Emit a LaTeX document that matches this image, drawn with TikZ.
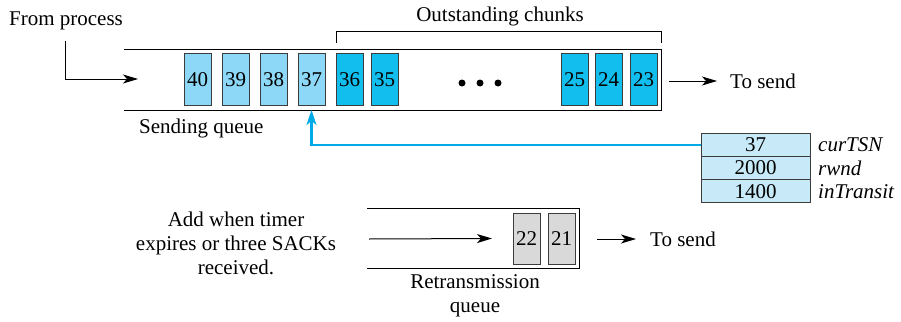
\documentclass[tikz,border=0pt]{standalone}
\usepackage{fontspec}
\setmainfont{Liberation Serif}
\usetikzlibrary{positioning,arrows.meta}
\definecolor{ChunkLight}{RGB}{140,216,246}
\definecolor{ChunkDark}{RGB}{18,190,238}
\definecolor{TabFill}{RGB}{200,233,248}
\definecolor{PtrBlue}{RGB}{0,170,230}
\definecolor{RetxGray}{RGB}{217,217,217}
\definecolor{EdgeGray}{RGB}{60,60,60}

\begin{document}
\begin{tikzpicture}[
  x=1pt, y=-1pt,
  font=\rmfamily\fontsize{21}{24}\selectfont,
  cell/.style={draw=EdgeGray,line width=1pt,minimum width=27pt,minimum height=51pt,inner sep=0pt,outer sep=0pt},
  waiting/.style={cell,fill=ChunkLight},
  sent/.style={cell,fill=ChunkDark},
  retx/.style={cell,fill=RetxGray},
  tabrow/.style={draw=EdgeGray,line width=1pt,fill=TabFill,minimum width=109pt,minimum height=23.3pt,inner sep=0pt,outer sep=0pt},
  lbl/.style={inner sep=0pt,align=center},
  ar/.style={-{Stealth[length=15pt,width=9pt,inset=4pt]},line width=1pt},
  ptr/.style={-{Stealth[length=15pt,width=10pt,inset=4pt]},draw=PtrBlue,line width=2.2pt}
]
\useasboundingbox (0,0) rectangle (901,321);
% sending queue
\draw[line width=1pt] (124,50) -| (661,110) -- (124,110);
\coordinate (sq-bot) at (124,110);
\node[waiting] (c40) at (197.5,79.5) {40};
\node[waiting,right=11pt of c40] (c39) {39};
\node[waiting,right=11pt of c39] (c38) {38};
\node[waiting,right=11pt of c38] (c37) {37};
\node[sent,right=11pt of c37] (c36) {36};
\node[sent,right=8pt of c36] (c35) {35};
\foreach \x in {462,480,498} \fill (\x,83) circle (3.5);
\node[sent] (c25) at (574.5,79.5) {25};
\node[sent,right=7pt of c25] (c24) {24};
\node[sent,right=8pt of c24] (c23) {23};
\node[lbl,anchor=west] (sqlabel) at (139,128) {Sending queue};
% outstanding chunks
\draw[line width=1pt] (336,43) |- (661,32) -- (661,43);
\node[lbl] (outst) at (500,16) {Outstanding chunks};
% from process
\node[lbl] (fromproc) at (66,21) {From process};
\coordinate (fp-turn) at (65,79);
\draw[ar] (65,41) -- (fp-turn) -- (138,79);
% to send (top)
\node[lbl,anchor=west] (send1) at (730,81) {To send};
\draw[ar] (669,81) -- ([xshift=-13pt]send1.west);
% variables
\node[tabrow] (tsn) at (755.5,144.7) {37};
\node[tabrow,below=0pt of tsn] (rwnd) {2000};
\node[tabrow,below=0pt of rwnd] (transit) {1400};
\node[lbl,anchor=west,right=8pt of tsn] {\itshape curTSN};
\node[lbl,anchor=west,right=8pt of rwnd] {\itshape rwnd};
\node[lbl,anchor=west,right=8pt of transit] {\itshape inTransit};
\draw[ptr] (tsn.west) -| (c37 |- sq-bot);
% retransmission queue
\draw[line width=1pt] (367,208) -| (579,268) -- (367,268);
\node[retx] (c22) at (526.5,238.5) {22};
\node[retx,right=8pt of c22] (c21) {21};
\node[lbl] (addtxt) at (236,243) {Add when timer\\expires or three SACKs\\received.};
\coordinate (rq-in) at (369,239);
\draw[ar] (rq-in) -- ([xshift=-21pt]c22.west);
\node[lbl] (rqlabel) at (475,296) {Retransmission\\queue};
\node[lbl,anchor=west] (send2) at (650,239) {To send};
\draw[ar] (597,239) -- ([xshift=-14pt]send2.west);
\end{tikzpicture}
\end{document}
